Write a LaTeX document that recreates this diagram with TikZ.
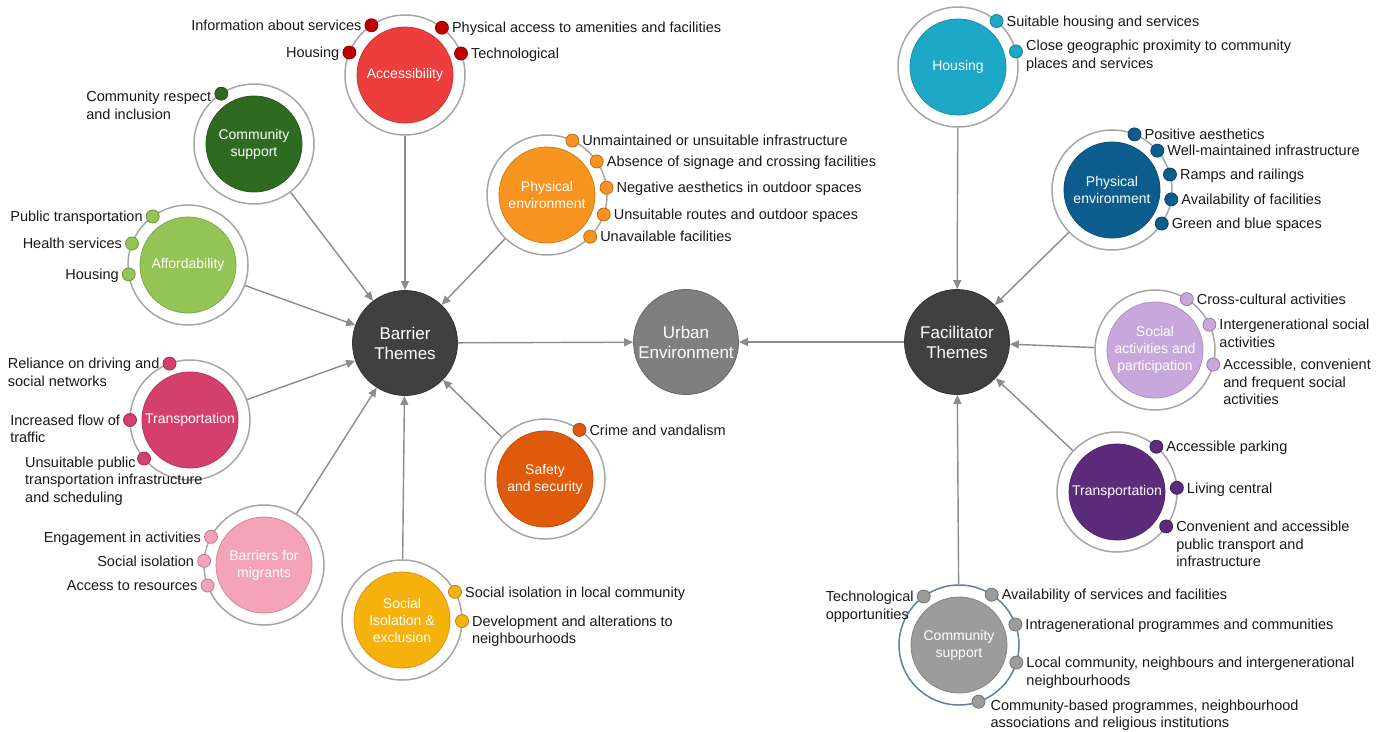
\documentclass[tikz,border=0pt]{standalone}
\usepackage{fontspec}
\setmainfont{Liberation Sans}
\usetikzlibrary{arrows.meta}
\definecolor{cAcc}{HTML}{EE3D3D}\definecolor{cAccD}{HTML}{C00000}
\definecolor{cCsb}{HTML}{2E6B20}
\definecolor{cAff}{HTML}{94C456}
\definecolor{cTrb}{HTML}{D4406C}
\definecolor{cMig}{HTML}{F5A3B9}
\definecolor{cSoc}{HTML}{F6B20C}
\definecolor{cSaf}{HTML}{E05A0B}
\definecolor{cPeb}{HTML}{F7941F}
\definecolor{cHou}{HTML}{1CA8C6}
\definecolor{cPef}{HTML}{0C5C8D}
\definecolor{cSap}{HTML}{C8A8DC}
\definecolor{cTrf}{HTML}{5C2B7B}
\definecolor{cCsf}{HTML}{9C9C9C}
\definecolor{cHub}{HTML}{404040}
\definecolor{cUrb}{HTML}{7F7F7F}
\definecolor{ringgray}{HTML}{A6A6A6}
\definecolor{ringblue}{HTML}{5E7FA6}
\definecolor{conngray}{HTML}{8C8C8C}
\newcommand\sat[4]{\node[ring] (#1R) at (#2) {};\node[innerc=#3] (#1) at (#2) {#4};}
\newcommand\dt[4]{\node[bdot=#4] (#1) at ([shift={(#3:60pt)}]#2) {};}
\newcommand\labR[3][0pt]{\node[lab,anchor=north west] (#2t) at ([xshift=3pt,yshift=7.25pt+#1]#2.east) {\strut #3};}
\newcommand\labL[3][0pt]{\node[lab,anchor=north east,align=right] (#2t) at ([xshift=-3pt,yshift=7.25pt+#1]#2.west) {\strut #3};}
\newcommand\labLl[3][0pt]{\node[lab,anchor=north east,align=left] (#2t) at ([xshift=-3pt,yshift=7.25pt+#1]#2.west) {\strut #3};}
\begin{document}
\begin{tikzpicture}[x=1pt,y=-1pt,
  hub/.style={circle,minimum size=105pt,inner sep=0pt,text=white,align=center,
    font=\fontsize{17}{20}\selectfont,draw=#1!80!black,line width=0.8pt,fill=#1},
  ring/.style={circle,minimum size=120pt,inner sep=0pt,draw=ringgray,line width=1.5pt,fill=white},
  innerc/.style={circle,minimum size=96pt,inner sep=0pt,fill=#1,draw=#1!85!black,line width=0.8pt,
    text=white,align=center,font=\fontsize{14}{17}\selectfont},
  bdot/.style={circle,minimum size=13pt,inner sep=0pt,fill=#1,draw=#1!75!black,line width=0.8pt},
  lab/.style={inner sep=0pt,align=left,font=\fontsize{14.5}{17.5}\selectfont,text=black!90},
  conn/.style={draw=conngray,line width=1.4pt,-{Triangle[length=9pt,width=8pt]}}]
\fill[white] (0,0) rectangle (1389,731);
\useasboundingbox (0,0) rectangle (1389,731);

% hubs
\node[hub=cHub] (B) at (405,343) {Barrier\\Themes};
\node[hub=cUrb] (U) at (686,342) {Urban\\Environment};
\node[hub=cHub] (F) at (957,342) {Facilitator\\Themes};

% barrier satellites
\sat{acc}{405,75}{cAcc}{Accessibility}
\sat{csb}{254,144}{cCsb}{Community\\support}
\sat{aff}{188,265}{cAff}{Affordability}
\sat{trb}{190,420}{cTrb}{Transportation}
\sat{mig}{264,565}{cMig}{Barriers for\\migrants}
\sat{soc}{402,620}{cSoc}{Social\\Isolation \&\\exclusion}
\sat{saf}{545,479}{cSaf}{Safety\\and security}
\sat{peb}{547,195}{cPeb}{Physical\\environment}
% facilitator satellites
\sat{hou}{958,67}{cHou}{Housing}
\sat{pef}{1112,190}{cPef}{Physical\\environment}
\sat{sap}{1155,350}{cSap}{Social\\activities and\\participation}
\sat{trf}{1117,492}{cTrf}{Transportation}
\node[ring,draw=ringblue] (csfR) at (959,645) {};
\node[innerc=cCsf] (csf) at (959,645) {Community\\support};

% connectors
\foreach \s in {acc,csb,aff,trb,mig,soc,saf,peb} \draw[conn] (\s R) -- (B);
\foreach \s in {hou,pef,sap,trf,csf} \draw[conn] (\s R) -- (F);
\draw[conn] (B) -- (U);
\draw[conn] (F) -- (U);

% Accessibility
\dt{acc1}{acc}{124}{cAccD}\labL{acc1}{Information about services}
\dt{acc2}{acc}{158}{cAccD}\labL{acc2}{Housing}
\dt{acc3}{acc}{52}{cAccD}\labR{acc3}{Physical access to amenities and facilities}
\dt{acc4}{acc}{21}{cAccD}\labR{acc4}{Technological}
% Community support
\dt{csb1}{csb}{123}{cCsb}\labLl[-3pt]{csb1}{Community respect\\and inclusion}
% Affordability
\dt{aff1}{aff}{126}{cAff}\labL{aff1}{Public transportation}
\dt{aff2}{aff}{159}{cAff}\labL{aff2}{Health services}
\dt{aff3}{aff}{189}{cAff}\labL{aff3}{Housing}
% Transportation (barrier)
\dt{trb1}{trb}{110}{cTrb}\labLl{trb1}{Reliance on driving and\\social networks}
\dt{trb2}{trb}{180}{cTrb}\labLl{trb2}{Increased flow of\\traffic}
\dt{trb3}{trb}{220}{cTrb}
\node[lab,anchor=north west] (trb3t) at (25,455) {\strut Unsuitable public\\transportation infrastructure\\and scheduling};
% Migrants
\dt{mig1}{mig}{152}{cMig}\labL{mig1}{Engagement in activities}
\dt{mig2}{mig}{176}{cMig}\labL{mig2}{Social isolation}
\dt{mig3}{mig}{200}{cMig}\labL{mig3}{Access to resources}
% Social isolation
\dt{soc1}{soc}{28}{cSoc}\labR{soc1}{Social isolation in local community}
\dt{soc2}{soc}{-1}{cSoc}\labR{soc2}{Development and alterations to\\neighbourhoods}
% Safety
\dt{saf1}{saf}{55}{cSaf}\labR{saf1}{Crime and vandalism}
% Physical environment (barrier)
\dt{peb1}{peb}{65}{cPeb}\labR{peb1}{Unmaintained or unsuitable infrastructure}
\dt{peb2}{peb}{34}{cPeb}\labR{peb2}{Absence of signage and crossing facilities}
\dt{peb3}{peb}{7}{cPeb}\labR{peb3}{Negative aesthetics in outdoor spaces}
\dt{peb4}{peb}{-19}{cPeb}\labR{peb4}{Unsuitable routes and outdoor spaces}
\dt{peb5}{peb}{-44}{cPeb}\labR{peb5}{Unavailable facilities}
% Housing
\dt{hou1}{hou}{50}{cHou}\labR{hou1}{Suitable housing and services}
\dt{hou2}{hou}{15}{cHou}\labR[6pt]{hou2}{Close geographic proximity to community\\places and services}
% Physical environment (facilitator)
\dt{pef1}{pef}{68}{cPef}\labR{pef1}{Positive aesthetics}
\dt{pef2}{pef}{41}{cPef}\labR{pef2}{Well-maintained infrastructure}
\dt{pef3}{pef}{15}{cPef}\labR{pef3}{Ramps and railings}
\dt{pef4}{pef}{-9}{cPef}\labR{pef4}{Availability of facilities}
\dt{pef5}{pef}{-34}{cPef}\labR{pef5}{Green and blue spaces}
% Social activities
\dt{sap1}{sap}{58}{cSap}\labR{sap1}{Cross-cultural activities}
\dt{sap2}{sap}{25}{cSap}\labR{sap2}{Intergenerational social\\activities}
\dt{sap3}{sap}{-14}{cSap}\labR{sap3}{Accessible, convenient\\and frequent social\\activities}
% Transportation (facilitator)
\dt{trf1}{trf}{49}{cTrf}\labR{trf1}{Accessible parking}
\dt{trf2}{trf}{4}{cTrf}\labR{trf2}{Living central}
\dt{trf3}{trf}{-35}{cTrf}\labR{trf3}{Convenient and accessible\\public transport and\\infrastructure}
% Community support (facilitator)
\dt{csf1}{csf}{126}{cCsf}\labLl{csf1}{Technological\\opportunities}
\dt{csf2}{csf}{57}{cCsf}\labR{csf2}{Availability of services and facilities}
\dt{csf3}{csf}{20}{cCsf}\labR{csf3}{Intragenerational programmes and communities}
\dt{csf4}{csf}{-17}{cCsf}\labR{csf4}{Local community, neighbours and intergenerational\\neighbourhoods}
\dt{csf5}{csf}{-71}{cCsf}
\node[lab,anchor=north west,font=\fontsize{14.5}{17}\selectfont] (csf5t) at ([xshift=5pt,yshift=3.5pt]csf5.east) {\strut Community-based programmes, neighbourhood\\associations and religious institutions};
\end{tikzpicture}
\end{document}
